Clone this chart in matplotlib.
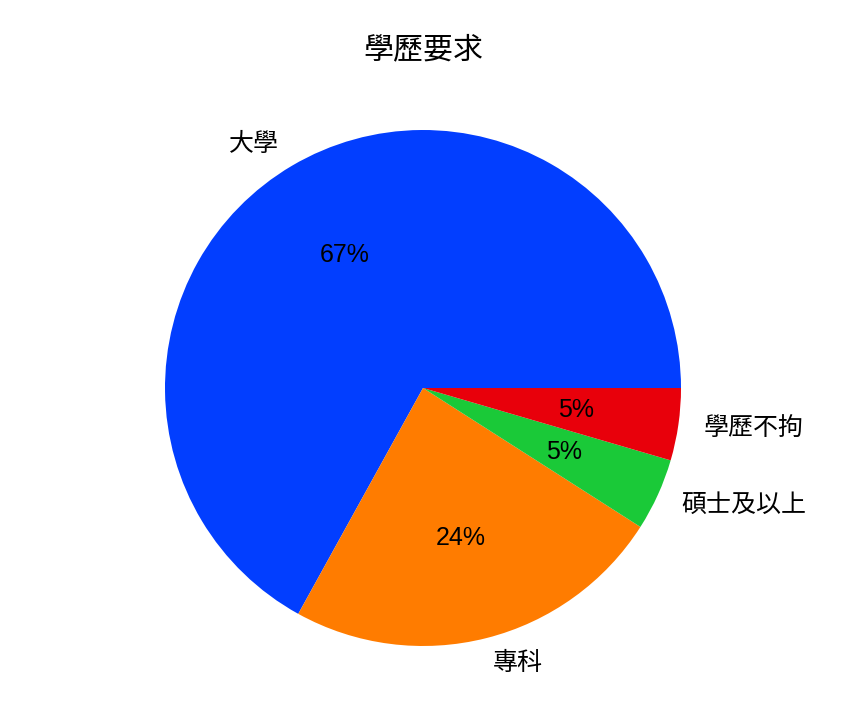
import matplotlib
matplotlib.use("Agg")
import matplotlib.pyplot as plt

plt.rcParams['font.family'] = ['Liberation Sans', 'Noto Sans CJK TC', 'DejaVu Sans']

labels = ['大學', '專科', '碩士及以上', '學歷不拘']
counts = [148, 53, 10, 10]
colors = ['#023eff', '#ff7c00', '#1ac938', '#e8000b']
title = '學歷要求'

fig = plt.figure(figsize=(8.46, 7.11), dpi=100)
ax = fig.add_axes([100.5 / 846, 0.5 / 711, 645 / 846, 645 / 711])
wedges, texts, autotexts = ax.pie(counts, labels=labels, colors=colors,
                                  autopct='%.0f%%',
                                  textprops={'fontsize': 18})
ax.set_title(title, fontsize=21.6, pad=5)
fig.savefig('out.png', dpi=100)
